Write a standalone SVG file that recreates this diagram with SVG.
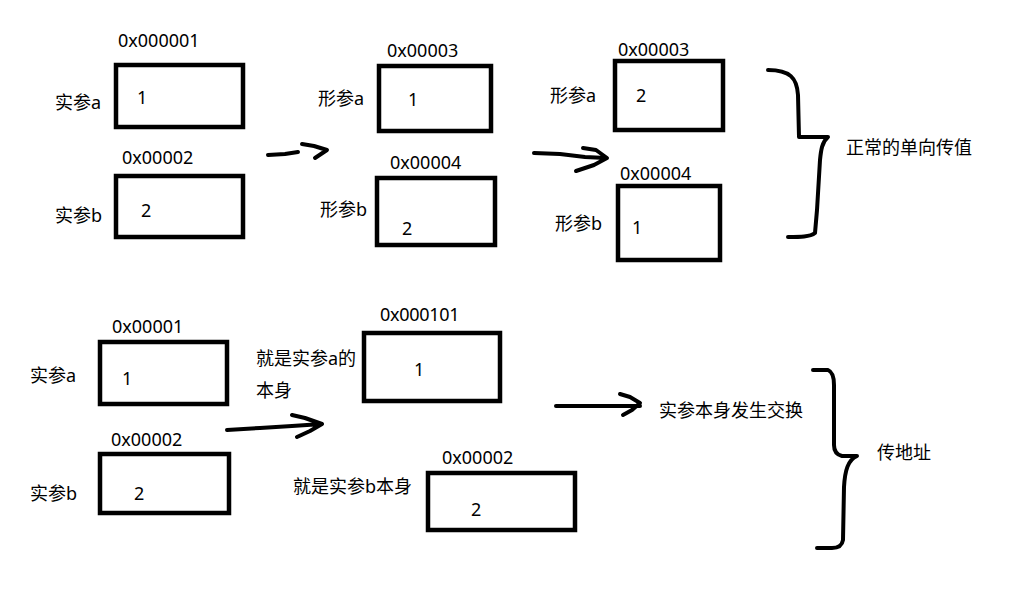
<svg xmlns="http://www.w3.org/2000/svg" width="1031" height="593" viewBox="0 0 1031 593">
<style>
.box{fill:#fff;stroke:#000;stroke-width:4.5}
text{font-family:"Noto Sans","Noto Sans CJK SC",sans-serif;font-size:18px;fill:#000}
.ink{fill:none;stroke:#000;stroke-width:4;stroke-linecap:round;stroke-linejoin:round}
</style>
<rect width="1031" height="593" fill="#fff"/>
<g id="n1"><text x="118" y="47">0x000001</text><text x="55" y="109">实参a</text><rect class="box" x="116" y="65" width="127" height="62"/><text x="137" y="104">1</text></g>
<g id="n2"><text x="122" y="164">0x00002</text><text x="55" y="222">实参b</text><rect class="box" x="116" y="176" width="127" height="61"/><text x="141" y="217">2</text></g>
<g id="n3"><text x="387" y="57">0x00003</text><text x="318" y="105">形参a</text><rect class="box" x="379" y="66" width="112" height="65"/><text x="408" y="106">1</text></g>
<g id="n4"><text x="390" y="169">0x00004</text><text x="320" y="216">形参b</text><rect class="box" x="377" y="178" width="118" height="67"/><text x="402" y="235">2</text></g>
<g id="n5"><text x="618" y="56">0x00003</text><text x="550" y="102">形参a</text><rect class="box" x="615" y="61" width="108" height="69"/><text x="636" y="102">2</text></g>
<g id="n6"><text x="620" y="180">0x00004</text><text x="555" y="230">形参b</text><rect class="box" x="618" y="186" width="102" height="74"/><text x="632" y="234">1</text></g>
<g id="n7"><text x="846" y="154">正常的单向传值</text></g>
<g id="n8"><text x="112" y="333">0x00001</text><text x="30" y="382">实参a</text><rect class="box" x="100" y="342" width="127" height="62"/><text x="122" y="385">1</text></g>
<g id="n9"><text x="111" y="446">0x00002</text><text x="30" y="500">实参b</text><rect class="box" x="100" y="454" width="129" height="59"/><text x="134" y="500">2</text></g>
<g id="n10"><text x="256" y="365">就是实参a的</text><text x="256" y="397">本身</text></g>
<g id="n11"><text x="380" y="321" letter-spacing="-0.3">0x000101</text><rect class="box" x="364" y="333" width="136" height="68"/><text x="414" y="376">1</text></g>
<g id="n12"><text x="293" y="493">就是实参b本身</text></g>
<g id="n13"><text x="442" y="464">0x00002</text><rect class="box" x="428" y="473" width="147" height="57"/><text x="471" y="516">2</text></g>
<g id="n14"><text x="659" y="417">实参本身发生交换</text></g>
<g id="n15"><text x="877" y="459">传地址</text></g>
<g id="connectors">
<path class="ink" d="M268 155 L285 154 L298 152 M302 144 L314 146 L327 150 L315 158"/>
<path class="ink" d="M534 153 L560 154 L585 157 L606 158 M583 148 L596 150 L607 158 L594 165 L576 171"/>
<path class="ink" d="M227 430 L260 428 L292 426 L322 424 M292 415 L305 418 L322 424 L310 431 L297 437"/>
<path class="ink" d="M556 406 L640 406 M620 394 L630 397 L640 403 L632 410 L623 415"/>
<path class="ink" d="M768 70 C790 70 797 78 798 95 L799 137 L828 137 C822 142 821 150 820 160 L817 210 L815 233 C810 237 800 237 788 237"/>
<path class="ink" d="M813 370 L828 370 C833 372 834 378 834 385 L834 445 C834 452 838 455 842 456 L857 456 C848 460 845 470 844 487 L843 540 C842 546 838 548 832 548 L817 548"/>
</g>
</svg>
